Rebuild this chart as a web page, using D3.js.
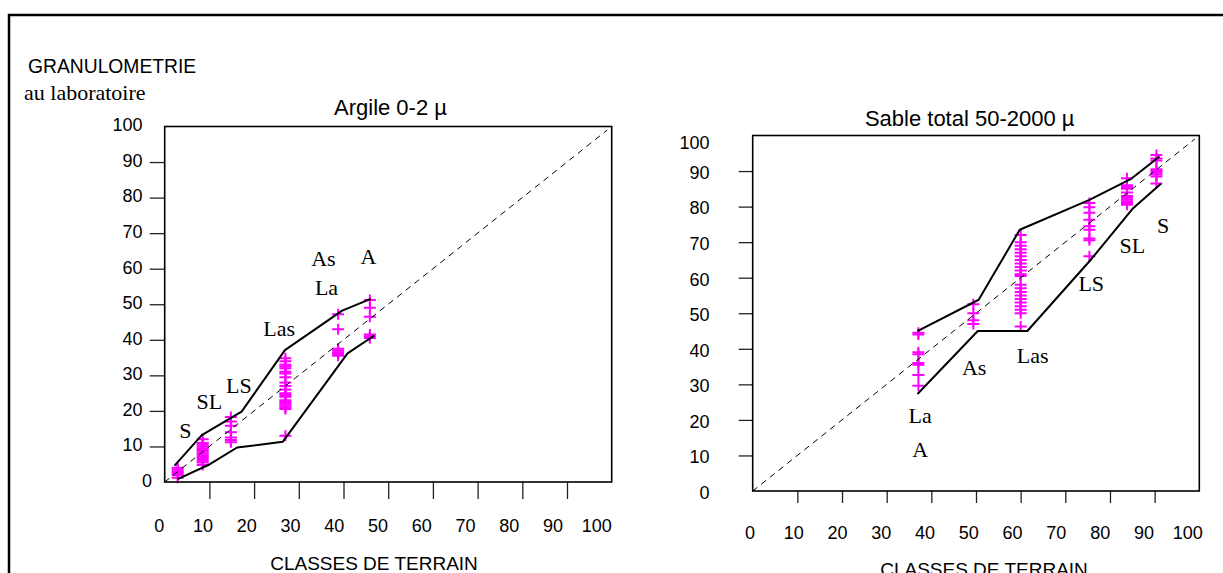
<!DOCTYPE html>
<html><head><meta charset="utf-8">
<script src="https://cdn.jsdelivr.net/npm/d3@7"></script>
<style>body{margin:0;background:#fff}svg{display:block}</style>
</head><body>
<svg id="c" width="1223" height="573"></svg>
<script>
// ---------- data ----------
const tickValues = [0,10,20,30,40,50,60,70,80,90,100];
const innerTicks = [10,20,30,40,50,60,70,80,90];

// Argile 0-2 µ : class position (x) and lab values (y) per class
const argileClassX = [2.9, 8.5, 14.8, 27.0, 38.8, 45.9];
const argileValues = [
  [1.2, 2, 2.5, 3, 3.5, 4],
  [4.8, 5.5, 6, 6.5, 7, 7.5, 8, 8.5, 9, 9.5, 10, 10.5, 11, 12],
  [11.2, 11.8, 12.5, 14, 15.8, 17, 18.3],
  [13, 20.5, 21, 21.5, 22, 22.5, 23, 24, 24.5, 25, 26, 27, 28, 29.5, 30.5, 31, 32, 32.5, 33, 34, 34.8],
  [35.5, 36, 36.5, 37, 37.5, 43, 47.2],
  [40.5, 41, 41.5, 46.5, 49, 51.2]
];
const argileUpper = [[2.2,4.6],[8.3,13.2],[17.2,19.8],[26.9,37.1],[39.7,48.2],[46.1,51.5]];
const argileLower = [[2.9,0.8],[10.1,5.0],[16.2,9.7],[26.4,11.3],[40.9,36.2],[46.9,41.2]];
const argileNames = ["S","SL","LS","Las","As","La","A"];
const argileNameX = [4.6, 10.0, 16.6, 25.6, 35.5, 36.2, 45.6];
const argileNameY = [14.6, 22.8, 27.3, 43.2, 62.9, 54.8, 63.6];

// Sable total 50-2000 µ
const sableClassX = [37.1, 49.4, 60.0, 75.4, 83.8, 90.4];
const sableValues = [
  [29.6, 32.6, 35.5, 36, 38.5, 39, 44, 44.5],
  [47, 48, 50, 52.5],
  [46.3, 50, 51, 52, 53, 54, 55, 56, 57, 58, 60.5, 61, 62, 63, 64, 65, 66, 67, 68, 69, 70, 72],
  [66, 70.5, 71, 73.5, 74.5, 76.3, 78.3, 79.8, 81],
  [80.5, 81, 81.5, 82, 82.5, 83, 84, 85, 85.5, 86, 88],
  [86.5, 88.5, 89, 89.5, 90, 90.5, 93, 93.5, 94.5]
];
const sableUpper = [[36.9,45.0],[50.6,53.8],[59.8,73.5],[75.4,81.9],[84.6,87.7],[91.1,94.1]];
const sableLower = [[36.9,27.3],[50.4,45.0],[61.5,45.0],[75.8,65.2],[85.0,79.3],[91.4,86.4]];
const sableNames = ["S","SL","LS","Las","As","La","A"];
const sableNameX = [91.9, 85.0, 75.8, 62.7, 49.6, 37.5, 37.5];
const sableNameY = [74.7, 69.2, 58.4, 38.3, 34.8, 21.4, 11.7];

// ---------- drawing ----------
const SANS = "'Liberation Sans', Arial, Helvetica, sans-serif";
const SERIF = "'Liberation Serif', 'Times New Roman', serif";
const svg = d3.select("#c");

svg.append("rect").attr("x", 9).attr("y", 15).attr("width", 1400).attr("height", 800)
  .attr("fill", "none").attr("stroke", "#000").attr("stroke-width", 2.5);

svg.append("text").attr("x", 28).attr("y", 73).attr("font-family", SANS).attr("font-size", 19.3)
  .text("GRANULOMETRIE");
svg.append("text").attr("x", 24).attr("y", 100).attr("font-family", SERIF).attr("font-size", 22)
  .text("au laboratoire");

function panel(cfg) {
  const x = d3.scaleLinear().domain([0, 100]).range([cfg.left, cfg.right]);
  const y = d3.scaleLinear().domain([0, 100]).range([cfg.bottom, cfg.top]);
  const xl = d3.scaleLinear().domain([0, 100]).range(cfg.xLabelRange);
  const g = svg.append("g");

  // ticks
  g.append("g").attr("transform", `translate(0,${cfg.bottom})`)
    .call(d3.axisBottom(x).tickValues(innerTicks).tickSize(cfg.xTickLen).tickFormat(""))
    .call(s => { s.select(".domain").remove(); s.selectAll("line").attr("stroke", "#222").attr("stroke-width", 1.3); });
  g.append("g").attr("transform", `translate(${cfg.left},0)`)
    .call(d3.axisLeft(y).tickValues(innerTicks).tickSize(cfg.yTickLen).tickFormat(""))
    .call(s => { s.select(".domain").remove(); s.selectAll("line").attr("stroke", "#222").attr("stroke-width", 1.3); });

  // tick labels
  g.append("g").selectAll("text").data(tickValues).join("text")
    .attr("x", d => xl(d)).attr("y", cfg.xLabelBase)
    .attr("text-anchor", "middle").attr("font-family", SANS).attr("font-size", 18)
    .text(d => d);
  g.append("g").selectAll("text").data(tickValues).join("text")
    .attr("x", d => d === 0 ? cfg.yZeroX : cfg.yLabelX)
    .attr("y", d => y(d) + cfg.yLabelDy + (d === 100 ? cfg.y100Dy : 0))
    .attr("dy", "0.35em")
    .attr("text-anchor", "end").attr("font-family", SANS).attr("font-size", 18)
    .text(d => d);

  // titles
  g.append("text").attr("x", cfg.titleX).attr("y", cfg.titleY).attr("text-anchor", "middle")
    .attr("font-family", SANS).attr("font-size", 22).text(cfg.title);
  g.append("text").attr("x", cfg.xTitleX).attr("y", cfg.xTitleY).attr("text-anchor", "middle")
    .attr("font-family", SANS).attr("font-size", 19).text("CLASSES DE TERRAIN");

  // markers
  const pts = [];
  cfg.classX.forEach((cx, i) => cfg.values[i].forEach(v => pts.push([cx, v])));
  g.append("g").selectAll("path").data(pts).join("path")
    .attr("transform", d => `translate(${x(d[0])},${y(d[1])})`)
    .attr("d", "M-6,0H6M0,-5.5V5.5")
    .attr("stroke", "#ff00ff").attr("stroke-width", 2).attr("fill", "none");

  // diagonal
  const line = d3.line().x(d => x(d[0])).y(d => y(d[1]));
  g.append("path").attr("d", line([[0, 0], [99, 99]]))
    .attr("stroke", "#000").attr("stroke-width", 1).attr("stroke-dasharray", "6,5").attr("fill", "none");

  // envelopes
  [cfg.upper, cfg.lower].forEach(env => {
    g.append("path").attr("d", line(env)).attr("stroke", "#000").attr("stroke-width", 2)
      .attr("fill", "none").attr("stroke-linejoin", "round");
  });

  // class names
  g.append("g").selectAll("text").data(cfg.names).join("text")
    .attr("x", (d, i) => x(cfg.nameX[i])).attr("y", (d, i) => y(cfg.nameY[i]))
    .attr("dy", "0.35em").attr("text-anchor", "middle")
    .attr("font-family", SERIF).attr("font-size", 22).text(d => d);

  // box
  g.append("rect").attr("x", cfg.left).attr("y", cfg.top)
    .attr("width", cfg.right - cfg.left).attr("height", cfg.bottom - cfg.top)
    .attr("fill", "none").attr("stroke", "#000").attr("stroke-width", 1.6);
}

panel({
  left: 164.7, right: 611.7, top: 126.5, bottom: 482,
  xTickLen: 17, yTickLen: 15,
  xLabelRange: [159.3, 596.7], xLabelBase: 532,
  yLabelX: 142.5, yZeroX: 152, yLabelDy: -1.5, y100Dy: 0,
  title: "Argile 0-2 µ", titleX: 390.5, titleY: 115,
  xTitleX: 374, xTitleY: 569.5,
  classX: argileClassX, values: argileValues, upper: argileUpper, lower: argileLower,
  names: argileNames, nameX: argileNameX, nameY: argileNameY
});

panel({
  left: 752.7, right: 1199.3, top: 135.5, bottom: 491,
  xTickLen: 12, yTickLen: 14,
  xLabelRange: [750, 1187.7], xLabelBase: 538.5,
  yLabelX: 709.5, yZeroX: 709.5, yLabelDy: 1.5, y100Dy: 5.5,
  title: "Sable total 50-2000 µ", titleX: 969.7, titleY: 125.7,
  xTitleX: 984, xTitleY: 576,
  classX: sableClassX, values: sableValues, upper: sableUpper, lower: sableLower,
  names: sableNames, nameX: sableNameX, nameY: sableNameY
});
</script>
</body></html>
